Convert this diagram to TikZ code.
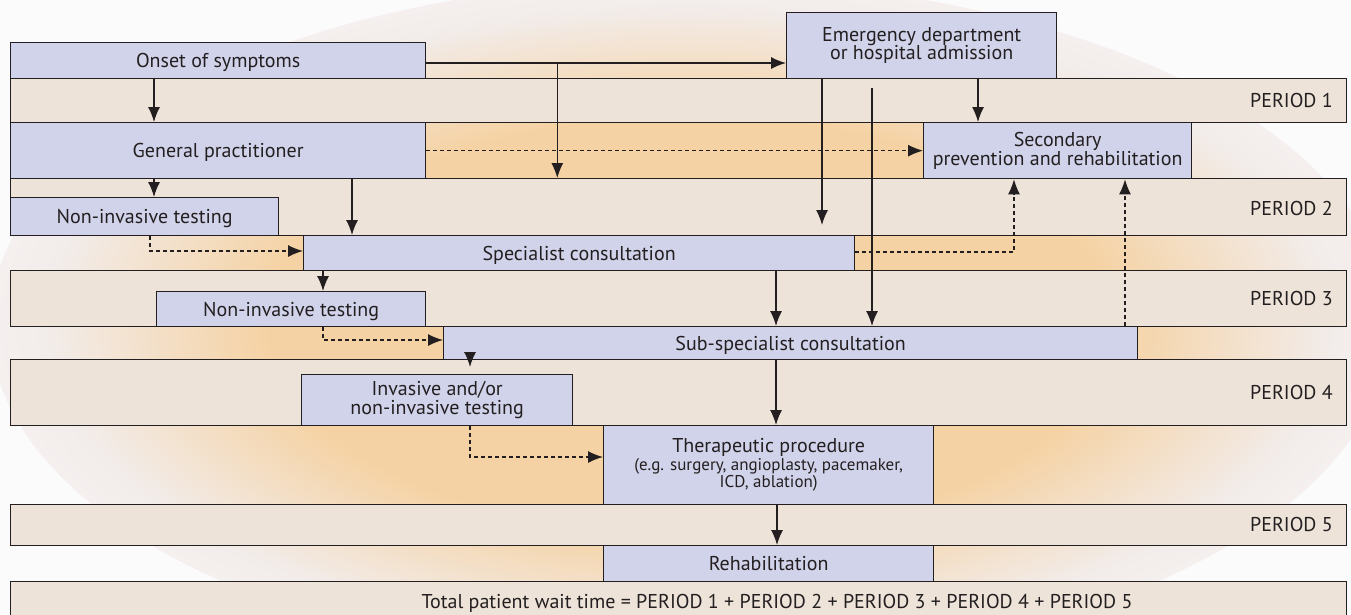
\documentclass[tikz,border=0pt]{standalone}
\usepackage{fontspec}
\setmainfont{PT Sans}
\usetikzlibrary{arrows.meta,calc}
\definecolor{peach}{HTML}{F5D2A3}
\definecolor{bggrey}{HTML}{F2ECEA}
\definecolor{bgwhite}{HTML}{FCFBFB}
\definecolor{bandc}{HTML}{EDE3D9}
\definecolor{boxc}{HTML}{D1D3EA}
\definecolor{lc}{HTML}{231F20}
\pgfdeclareradialshading{glow}{\pgfpoint{0bp}{0bp}}{color(0bp)=(peach); color(15bp)=(peach); color(23bp)=(bggrey); color(30bp)=(bgwhite); color(50bp)=(bgwhite)}
\begin{document}
\begin{tikzpicture}[x=1pt,y=-1pt,
  every node/.style={text=lc},
  mainfont/.style={font=\fontsize{20}{18.5}\selectfont},
  band/.style={draw=lc, fill=bandc, line width=1.3pt, anchor=north west, inner sep=0pt, minimum width=1336pt},
  box/.style={draw=lc, fill=boxc, line width=1.3pt, anchor=north west, inner sep=0pt, mainfont, align=center},
  one/.style={text height=14pt, text depth=0pt},
  plabel/.style={mainfont, anchor=east, inner sep=0pt, text height=14pt, text depth=0pt},
  arr/.style={draw=lc, line width=1.3pt, -{Latex[length=15pt,width=12pt]}},
  darr/.style={arr, dash pattern=on 4pt off 3pt}]
\useasboundingbox (0,0) rectangle (1351,614);
% background glow
\begin{scope}
\clip (0,0) rectangle (1351,614);
\fill[bgwhite] (0,0) rectangle (1351,614);
\shade[shading=glow] (690,325) ellipse [x radius=700pt, y radius=345pt];
\end{scope}
% period bands
\node[band, minimum height=44pt] (p1) at (10,78) {};
\node[band, minimum height=57pt] (p2) at (10,178) {};
\node[band, minimum height=56pt] (p3) at (10,270) {};
\node[band, minimum height=66pt] (p4) at (10,359) {};
\node[band, minimum height=41pt] (p5) at (10,504) {};
\node[band, minimum height=45pt] (tot) at (10,581) {};
\node[plabel] (l1) at (1333,100) {PERIOD 1};
\node[plabel] (l2) at (1333,208) {PERIOD 2};
\node[plabel] (l3) at (1333,298) {PERIOD 3};
\node[plabel] (l4) at (1333,392) {PERIOD 4};
\node[plabel] (l5) at (1333,524) {PERIOD 5};
\node[mainfont, one, inner sep=0pt] (totaltext) at (777,601) {Total patient wait time = PERIOD 1 + PERIOD 2 + PERIOD 3 + PERIOD 4 + PERIOD 5};
% boxes
\node[box, one, minimum width=415pt, minimum height=36pt] (onset) at (10,42) {Onset of symptoms};
\node[box, minimum width=270pt, minimum height=66pt] (ed) at (786,12) {Emergency department\\or hospital admission};
\node[box, one, minimum width=415pt, minimum height=56pt] (gp) at (10,122) {General practitioner};
\node[box, minimum width=268pt, minimum height=56pt] (sec) at (923,122) {Secondary\\prevention and rehabilitation};
\node[box, one, minimum width=268pt, minimum height=38pt] (nit1) at (10,197) {Non-invasive testing};
\node[box, one, minimum width=551pt, minimum height=35pt] (spec) at (303,235) {Specialist consultation};
\node[box, one, minimum width=269pt, minimum height=35pt] (nit2) at (156,291) {Non-invasive testing};
\node[box, one, minimum width=694pt, minimum height=33pt] (sub) at (443,326) {Sub-specialist consultation};
\node[box, minimum width=271pt, minimum height=51pt] (inv) at (301,374) {Invasive and/or\\non-invasive testing};
\node[box, minimum width=330pt, minimum height=79pt, font=\fontsize{17}{17}\selectfont] (ther) at (603,425) {{\fontsize{20}{18.5}\selectfont Therapeutic procedure}\\[1pt](e.g. surgery, angioplasty, pacemaker,\\ICD, ablation)};
\node[box, one, minimum width=330pt, minimum height=36pt] (rehab) at (603,545) {Rehabilitation};
% connectors
\coordinate (o1) at ($(onset.north east)+(0,21)$);
\coordinate (br) at ($(onset.north east)+(131,21)$);
\draw[arr] (o1) -- (o1 -| ed.west);
\draw[arr] (br) -- (br |- p2.north);
\coordinate (o2) at ($(onset.south west)+(144,0)$);
\draw[arr] (o2) -- (o2 |- gp.north);
\draw[darr] (gp.east) -- (sec.west);
\coordinate (g1) at ($(gp.south west)+(144,0)$);
\draw[arr] (g1) -- (g1 |- nit1.north);
\coordinate (g2) at ($(gp.south west)+(342,0)$);
\draw[arr] (g2) -- (g2 |- spec.north);
\coordinate (e1) at ($(ed.south west)+(36,0)$);
\coordinate (e1end) at ($(spec.north west)+(519,-10)$);
\draw[arr] (e1) -- (e1end);
\coordinate (e2) at ($(ed.south west)+(86,9)$);
\draw[arr] (e2) -- (e2 |- sub.north);
\coordinate (e3) at ($(ed.south west)+(192,0)$);
\draw[arr] (e3) -- (e3 |- sec.north);
\coordinate (s1) at ($(spec.north east)+(0,17)$);
\coordinate (s1t) at ($(sec.south west)+(91,0)$);
\draw[darr] (s1) -| (s1t);
\coordinate (n1) at ($(nit1.south west)+(140,0)$);
\draw[darr] (n1) |- ($(spec.north west)+(0,16)$);
\coordinate (s2) at ($(spec.south west)+(20,0)$);
\draw[arr] (s2) -- (s2 |- nit2.north);
\coordinate (s3) at ($(spec.south west)+(473,0)$);
\draw[arr] (s3) -- (s3 |- sub.north);
\coordinate (n2) at ($(nit2.south west)+(167,0)$);
\draw[darr] (n2) |- ($(sub.north west)+(0,14)$);
\coordinate (u1) at ($(sub.north west)+(682,0)$);
\draw[darr] (u1) -- (u1 |- sec.south);
\coordinate (u2) at ($(sub.south west)+(27,-7)$);
\coordinate (u2end) at ($(inv.north west)+(169,-7)$);
\draw[arr] (u2) -- (u2end);
\coordinate (u3) at ($(sub.south west)+(333,0)$);
\draw[arr] (u3) -- (u3 |- ther.north);
\coordinate (i1) at ($(inv.south west)+(169,0)$);
\draw[darr] (i1) |- ($(ther.north west)+(0,32)$);
\coordinate (t1) at ($(ther.south west)+(174,0)$);
\draw[arr] (t1) -- (t1 |- rehab.north);
\end{tikzpicture}
\end{document}
